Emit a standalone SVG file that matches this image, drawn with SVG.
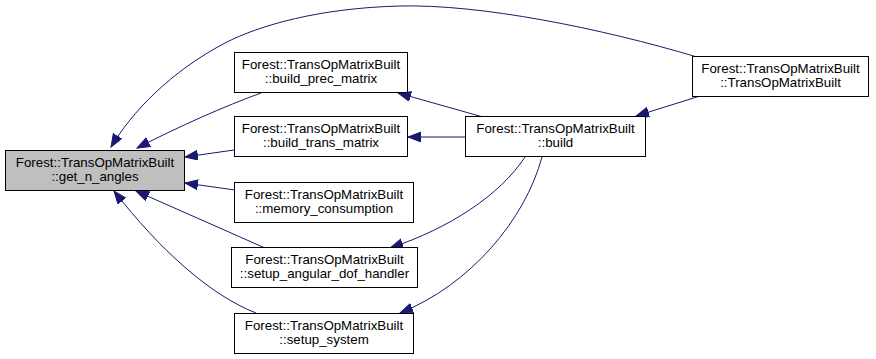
<svg xmlns="http://www.w3.org/2000/svg" width="876" height="359" viewBox="0 0 876 359">
  <style>
    .node rect { fill: #ffffff; stroke: #000000; stroke-width: 1; }
    .node.self rect { fill: #bfbfbf; }
    .node text { font-family: "Liberation Sans", Arial, sans-serif; font-size: 13.3px; fill: #000000; text-anchor: middle; }
    .edge { fill: none; stroke: #191970; stroke-width: 1; marker-end: url(#head); }
  </style>
  <defs>
    <marker id="head" markerUnits="userSpaceOnUse" markerWidth="14" markerHeight="12" refX="13" refY="5" orient="auto">
      <path d="M0,0 L13,5 L0,10 Z" fill="#191970" stroke="#191970" stroke-width="1"/>
    </marker>
  </defs>

  <g id="connectors">
    <path class="edge" d="M697,57 C600,28 480,4 400,6 C320,8 260,25 225,43 C170,72 132,112 111,147"/>
    <path class="edge" d="M261,93 C225,106 180,126 137,148"/>
    <path class="edge" d="M234,150 L185,157"/>
    <path class="edge" d="M235,190 L185,183"/>
    <path class="edge" d="M265,248 L136,191"/>
    <path class="edge" d="M256,313 C210,295 160,250 114,191"/>
    <path class="edge" d="M483,117 L398,93"/>
    <path class="edge" d="M465,137 L408,137"/>
    <path class="edge" d="M700,96 L636,116"/>
    <path class="edge" d="M525,157 C500,195 450,228 390,248"/>
    <path class="edge" d="M542,157 C525,220 470,285 400,313"/>
  </g>

  <g id="get_n_angles" class="node self">
    <rect x="5.5" y="150.5" width="179" height="40"/>
    <text x="95" y="167">Forest::TransOpMatrixBuilt</text>
    <text x="95" y="181">::get_n_angles</text>
  </g>
  <g id="build_prec_matrix" class="node">
    <rect x="234.5" y="52.5" width="173" height="40"/>
    <text x="321" y="69">Forest::TransOpMatrixBuilt</text>
    <text x="321" y="83">::build_prec_matrix</text>
  </g>
  <g id="build_trans_matrix" class="node">
    <rect x="234.5" y="116.5" width="173" height="40"/>
    <text x="321" y="133">Forest::TransOpMatrixBuilt</text>
    <text x="321" y="147">::build_trans_matrix</text>
  </g>
  <g id="memory_consumption" class="node">
    <rect x="234.5" y="182.5" width="179" height="40"/>
    <text x="324" y="199">Forest::TransOpMatrixBuilt</text>
    <text x="324" y="213">::memory_consumption</text>
  </g>
  <g id="setup_angular_dof_handler" class="node">
    <rect x="231.5" y="247.5" width="186" height="40"/>
    <text x="324.5" y="264">Forest::TransOpMatrixBuilt</text>
    <text x="324.5" y="278">::setup_angular_dof_handler</text>
  </g>
  <g id="setup_system" class="node">
    <rect x="234.5" y="313.5" width="179" height="40"/>
    <text x="324" y="330">Forest::TransOpMatrixBuilt</text>
    <text x="324" y="344">::setup_system</text>
  </g>
  <g id="build" class="node">
    <rect x="465.5" y="116.5" width="180" height="40"/>
    <text x="555.5" y="133">Forest::TransOpMatrixBuilt</text>
    <text x="555.5" y="147">::build</text>
  </g>
  <g id="TransOpMatrixBuilt" class="node">
    <rect x="692.5" y="56.5" width="176" height="40"/>
    <text x="780.5" y="73">Forest::TransOpMatrixBuilt</text>
    <text x="780.5" y="87">::TransOpMatrixBuilt</text>
  </g>
</svg>
